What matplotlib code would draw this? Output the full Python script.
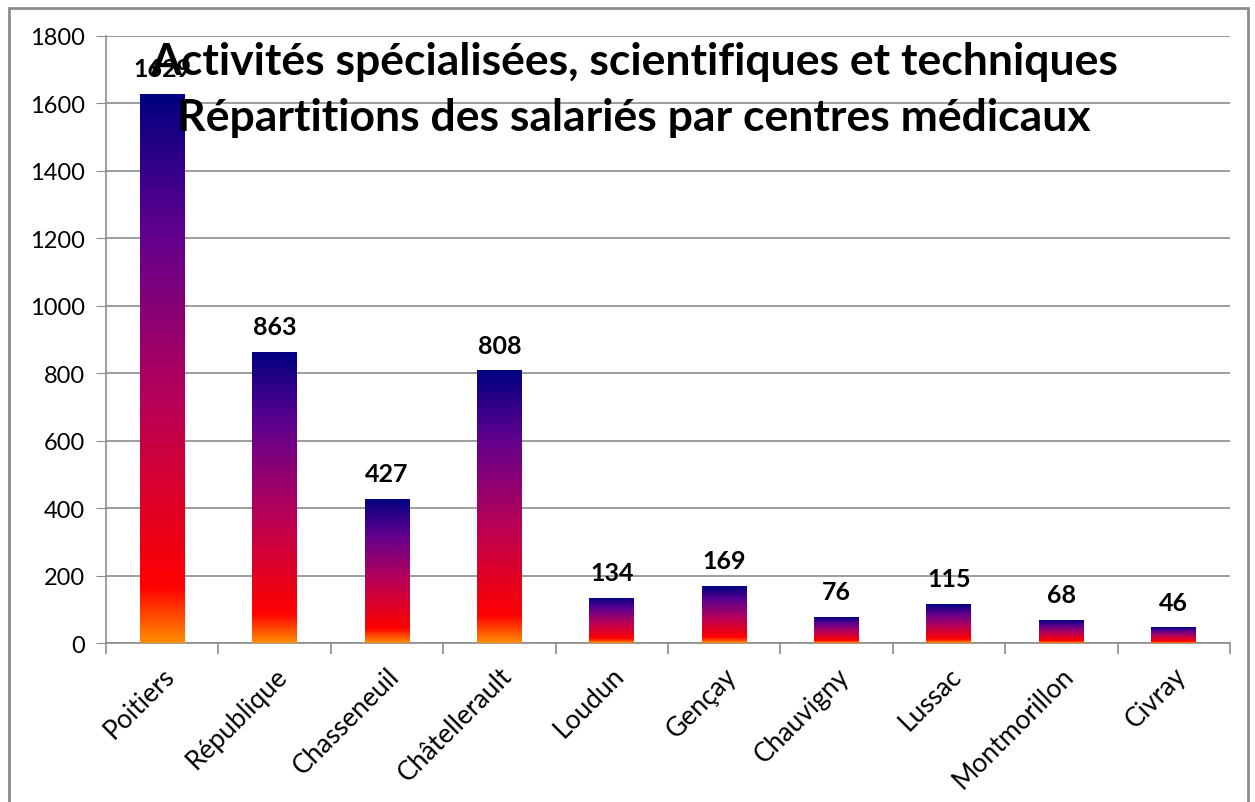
import numpy as np
import matplotlib.pyplot as plt
from matplotlib.colors import LinearSegmentedColormap
from matplotlib.patches import Rectangle

# data
centres = ["Poitiers", "République", "Chasseneuil", "Châtellerault", "Loudun",
           "Gençay", "Chauvigny", "Lussac", "Montmorillon", "Civray"]
salaries = [1629, 863, 427, 808, 134, 169, 76, 115, 68, 46]
y_ticks = [0, 200, 400, 600, 800, 1000, 1200, 1400, 1600, 1800]
title_lines = ["Activités spécialisées, scientifiques et techniques",
               "Répartitions des salariés par centres médicaux"]

plt.rcParams["font.family"] = ["Lato", "DejaVu Sans"]

# orange at the base, red, then purple up to navy at the top of each bar
fire = LinearSegmentedColormap.from_list(
    "fire", [(0.0, "#FF8C00"), (0.1, "#FF0000"), (0.45, "#B5005A"),
             (0.75, "#60008F"), (1.0, "#000080")])
grad = np.linspace(0, 1, 256).reshape(-1, 1)

fig = plt.figure(figsize=(12.55, 8.03), dpi=100)
ax = fig.add_axes([0.0845, 0.198, 0.8955, 0.756])

x = np.arange(len(centres))
width = 0.4
bars = ax.bar(x, salaries, width, color="none", edgecolor="none", zorder=3)
for b, v in zip(bars, salaries):
    x0 = b.get_x()
    im = ax.imshow(grad, cmap=fire, origin="lower", aspect="auto",
                   extent=[x0, x0 + width, 0, v], zorder=3)
    im.set_clip_path(b)
    ax.annotate(f"{v}", (b.get_x() + width / 2, v), xytext=(0, 10),
                textcoords="offset points", ha="center", va="bottom",
                fontsize=18, fontweight="bold", zorder=2)

ax.set_xlim(-0.5, len(centres) - 0.5)
ax.set_ylim(0, 1800)
ax.set_yticks(y_ticks)
ax.tick_params(axis="y", labelsize=17, length=7, color="#8c8c8c", pad=8)
ax.yaxis.grid(True, color="#8c8c8c", linewidth=1.2)
ax.set_axisbelow(True)

ax.set_xticks(x)
ax.set_xticklabels(centres, rotation=45, ha="right", rotation_mode="anchor",
                   fontsize=19)
ax.tick_params(axis="x", length=0, pad=14)
ax.set_xticks(np.arange(-0.5, len(centres)), minor=True)
ax.tick_params(axis="x", which="minor", length=8, color="#8c8c8c", width=1.2)

for s in ["top", "right"]:
    ax.spines[s].set_visible(False)
for s in ["left", "bottom"]:
    ax.spines[s].set_color("#8c8c8c")
    ax.spines[s].set_linewidth(1.2)

for line, y in zip(title_lines, [0.923, 0.853]):
    fig.text(0.505, y, line, ha="center", va="center", fontsize=32,
             fontweight="bold", zorder=10)

# chart border
fig.patches.append(Rectangle((9 / 1255, -0.05), 1239 / 1255, 1.05 - 9 / 803,
                             transform=fig.transFigure, fill=False,
                             edgecolor="#8c8c8c", linewidth=2))

fig.savefig("out.png", dpi=100)
